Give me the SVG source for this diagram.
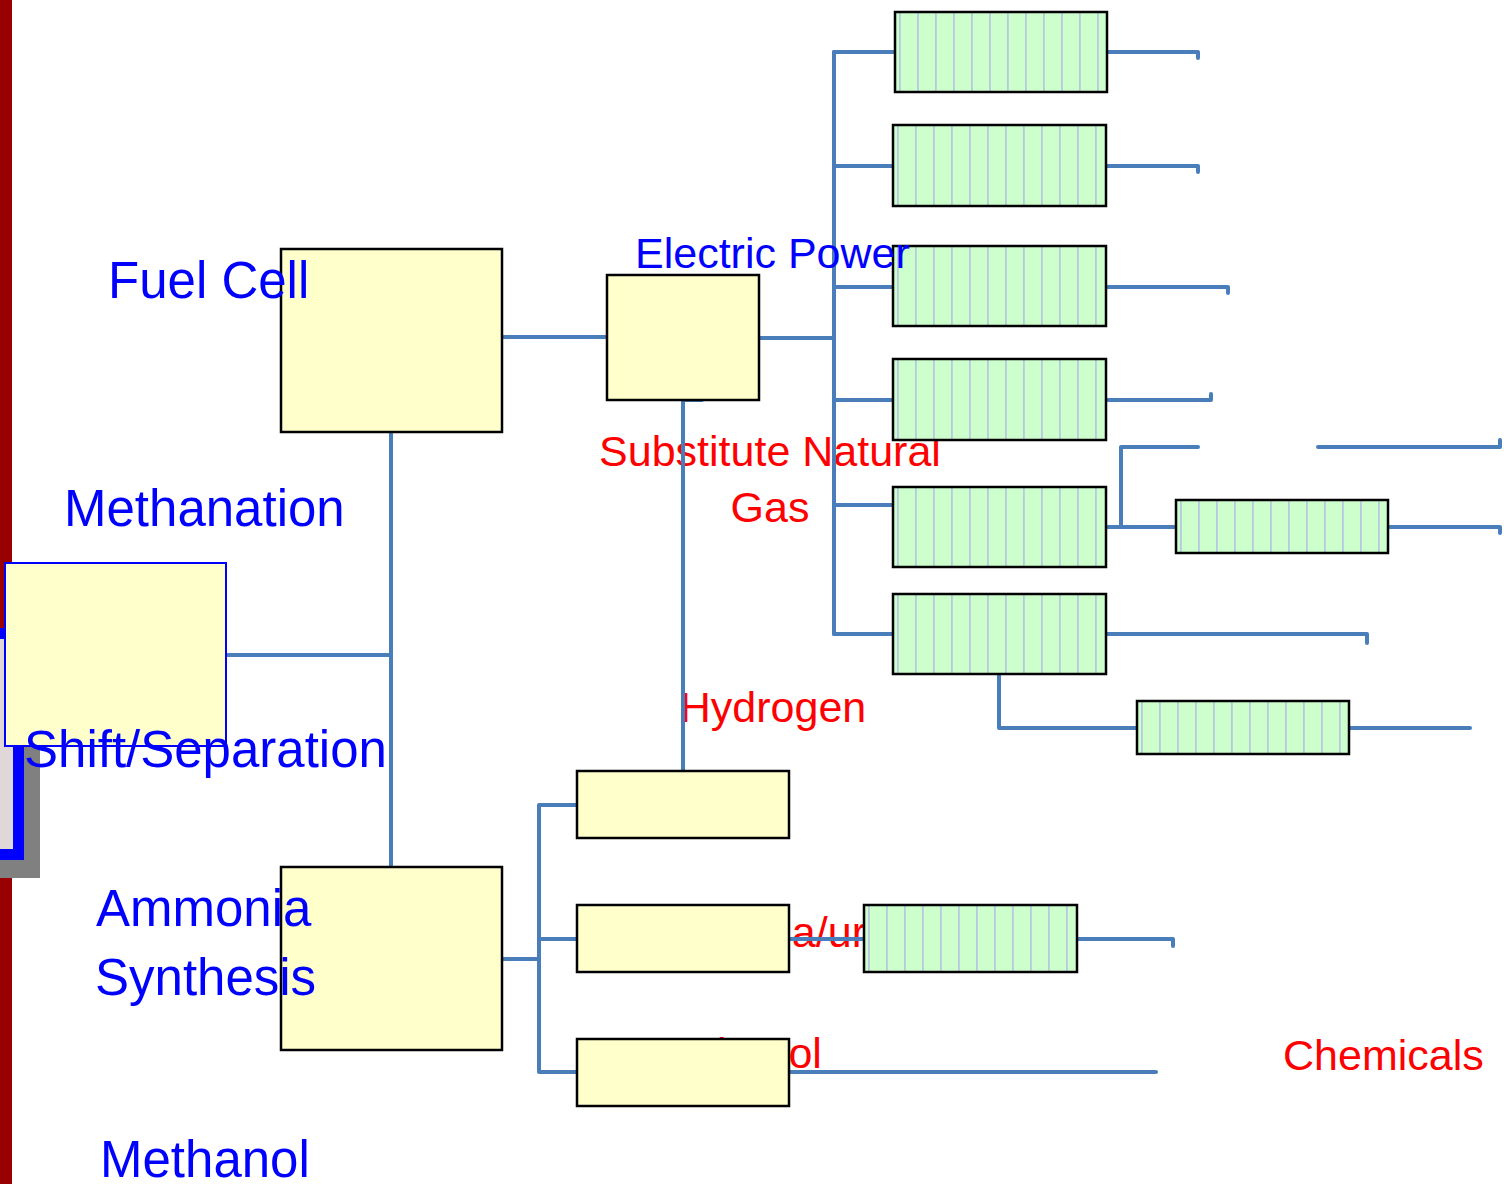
<svg xmlns="http://www.w3.org/2000/svg" width="1504" height="1184" viewBox="0 0 1504 1184">
<style>
.blue{font-family:"Liberation Sans",Arial,sans-serif;fill:#0000ff;font-size:51px}
.red{font-family:"Liberation Sans",Arial,sans-serif;fill:#ff0000;font-size:43px}
.ybox{fill:#ffffcc;stroke:#000;stroke-width:2.5}
.gbox{fill:url(#stripes);stroke:#000;stroke-width:2.5}
.con{fill:none;stroke:#4a7ebb;stroke-width:4;stroke-linecap:round;stroke-linejoin:round}
</style>
<defs>
<pattern id="stripes" patternUnits="userSpaceOnUse" x="-14" y="0" width="18" height="20">
<rect width="18" height="20" fill="#ccffcc"/>
<rect x="0" y="0" width="1.8" height="20" fill="#b8c8e0"/>
</pattern>
</defs>
<rect width="1504" height="1184" fill="#ffffff"/>
<g id="background">
<rect x="0" y="0" width="12" height="1184" fill="#990000"/>
<rect x="-30" y="646" width="70" height="232" fill="#808080"/>
<rect x="-24.5" y="633.5" width="43" height="221" fill="#e0d8d8" stroke="#0000ff" stroke-width="11"/>
</g>
<g id="red-labels">
<text class="red" x="770" y="466" text-anchor="middle">Substitute Natural</text>
<text class="red" x="770" y="522" text-anchor="middle">Gas</text>
<text class="red" x="773" y="722" text-anchor="middle">Hydrogen</text>
<text class="red" x="774" y="947" text-anchor="middle">Ammonia/urea</text>
<text class="red" x="645" y="1068">Methanol</text>
<text class="red" x="1283" y="1070">Chemicals</text>
</g>
<g id="connectors">
<path class="con" d="M502 337H607"/>
<path class="con" d="M391 432V867"/>
<path class="con" d="M226 655H391"/>
<path class="con" d="M759 338H834" stroke-width="5"/>
<path class="con" d="M834 52V634"/>
<path class="con" d="M834 52H895M834 166H893M834 287H893M834 400H893M834 505H893M834 634H893"/>
<path class="con" d="M1107 52H1198V58"/>
<path class="con" d="M1106 166H1198V172"/>
<path class="con" d="M1106 287H1228V293"/>
<path class="con" d="M1106 400H1211V394"/>
<path class="con" d="M1106 527H1176"/>
<path class="con" d="M1121 527V447H1198"/>
<path class="con" d="M1318 447H1500V440"/>
<path class="con" d="M1388 527H1500V533"/>
<path class="con" d="M1106 634H1367V643"/>
<path class="con" d="M999 674V728H1137"/>
<path class="con" d="M1349 728H1470"/>
<path class="con" d="M683 400H702M683 400V771"/>
<path class="con" d="M502 959H539M539 805V1072M539 805H577M539 939H577M539 1072H577"/>
<path class="con" d="M789 939H864"/>
<path class="con" d="M1077 939H1173V946"/>
<path class="con" d="M789 1072H1156"/>
</g>
<g id="node-fuelcell"><rect class="ybox" x="281" y="249" width="221" height="183"/></g>
<g id="node-shift"><rect x="5" y="563" width="221" height="183" fill="#ffffcc" stroke="#0000ff" stroke-width="2"/></g>
<g id="node-ammonia"><rect class="ybox" x="281" y="867" width="221" height="183"/></g>
<g id="node-electric"><rect class="ybox" x="607" y="275" width="152" height="125"/></g>
<g id="node-hydrogen"><rect class="ybox" x="577" y="771" width="212" height="67"/></g>
<g id="node-urea"><rect class="ybox" x="577" y="905" width="212" height="67"/></g>
<g id="node-methanol"><rect class="ybox" x="577" y="1039" width="212" height="67"/></g>
<g id="node-g1" transform="translate(895 12)"><rect class="gbox" width="212" height="80"/></g>
<g id="node-g2" transform="translate(893 125)"><rect class="gbox" width="213" height="81"/></g>
<g id="node-g3" transform="translate(893 246)"><rect class="gbox" width="213" height="80"/></g>
<g id="node-g4" transform="translate(893 359)"><rect class="gbox" width="213" height="81"/></g>
<g id="node-g5" transform="translate(893 487)"><rect class="gbox" width="213" height="80"/></g>
<g id="node-g6" transform="translate(893 594)"><rect class="gbox" width="213" height="80"/></g>
<g id="node-g7" transform="translate(1176 500)"><rect class="gbox" width="212" height="53"/></g>
<g id="node-g8" transform="translate(1137 701)"><rect class="gbox" width="212" height="53"/></g>
<g id="node-g9" transform="translate(864 905)"><rect class="gbox" width="213" height="67"/></g>
<g id="blue-labels">
<text class="blue" x="108" y="298">Fuel Cell</text>
<text class="blue" x="64" y="526">Methanation</text>
<text class="blue" x="24" y="767">Shift/Separation</text>
<text class="blue" x="96" y="926">Ammonia</text>
<text class="blue" x="95" y="995">Synthesis</text>
<text class="blue" x="100" y="1177">Methanol</text>
<text class="blue" x="635" y="268" style="font-size:43px">Electric Power</text>
</g>
</svg>
